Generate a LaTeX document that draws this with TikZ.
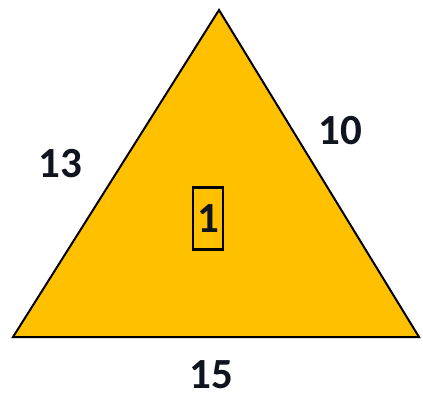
\documentclass[tikz,border=0pt]{standalone}
\usepackage{fontspec}
\setmainfont{Carlito}
\definecolor{gold}{HTML}{FFC000}
\definecolor{ink}{HTML}{10141E}
\begin{document}
\begin{tikzpicture}[x=1pt,y=-1pt,
  lbl/.style={font=\fontsize{43}{43}\selectfont\bfseries, text=ink, inner sep=0pt},
  tri/.style={fill=gold, draw=black, line width=2pt, line join=miter},
  numbox/.style={draw=black, line width=2.2pt, fill=gold, minimum width=30pt, minimum height=62pt, inner sep=0pt}]
\useasboundingbox (0,0) rectangle (423,397);
\coordinate (A) at (219,10);
\coordinate (B) at (13,337);
\coordinate (C) at (419,337);
\draw[tri] (A) -- (B) -- (C) -- cycle;
\node[numbox] (box) at (208,218.5) {};
\node[lbl] (one) at (box.center) {1};
\node[lbl] (l13) at (60,164) {13};
\node[lbl] (l10) at (340,131) {10};
\node[lbl] (l15) at (211,375) {15};
\end{tikzpicture}
\end{document}
